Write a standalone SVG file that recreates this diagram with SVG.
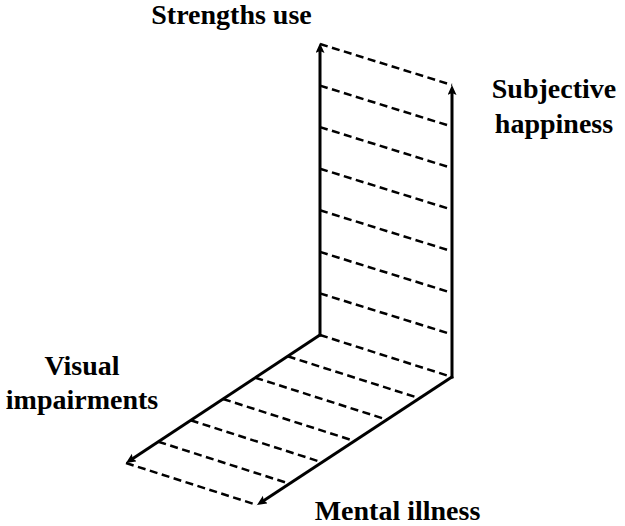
<svg xmlns="http://www.w3.org/2000/svg" width="625" height="526" viewBox="0 0 625 526">
  <style>
    .axis { stroke: #000; stroke-width: 3; fill: none; marker-end: url(#arrow); }
    .dash { stroke: #000; stroke-width: 2.5; fill: none; stroke-dasharray: 8 4.5; }
    .lbl { font-family: "Liberation Serif", "Times New Roman", serif; font-weight: bold; font-size: 28px; fill: #000; text-anchor: middle; }
  </style>
  <defs>
    <marker id="arrow" markerUnits="userSpaceOnUse" markerWidth="12" markerHeight="10" refX="4" refY="4.5" orient="auto">
      <path d="M0,0 L10,4.5 L0,9 L2,4.5 z" fill="#000"/>
    </marker>
  </defs>
  <rect width="625" height="526" fill="#fff"/>

  <g id="hatching">
    <line class="dash" x1="320" y1="44" x2="452" y2="85"/>
    <line class="dash" x1="320" y1="85.6" x2="452" y2="126.6"/>
    <line class="dash" x1="320" y1="127.1" x2="452" y2="168.1"/>
    <line class="dash" x1="320" y1="168.7" x2="452" y2="209.7"/>
    <line class="dash" x1="320" y1="210.3" x2="452" y2="251.3"/>
    <line class="dash" x1="320" y1="251.9" x2="452" y2="292.9"/>
    <line class="dash" x1="320" y1="293.4" x2="452" y2="334.4"/>
    <line class="dash" x1="320" y1="335" x2="452" y2="377"/>
    <line class="dash" x1="287.7" y1="356.3" x2="419.5" y2="398.3"/>
    <line class="dash" x1="255.3" y1="377.7" x2="387" y2="419.7"/>
    <line class="dash" x1="223" y1="399" x2="354.5" y2="441"/>
    <line class="dash" x1="190.7" y1="420.3" x2="322" y2="462.3"/>
    <line class="dash" x1="158.3" y1="441.7" x2="289.5" y2="483.7"/>
    <line class="dash" x1="126" y1="463" x2="257" y2="505"/>
  </g>

  <g id="axes">
    <line id="strengths-axis" class="axis" x1="320" y1="336.5" x2="320" y2="49"/>
    <line id="happiness-axis" class="axis" x1="452" y1="378.5" x2="452" y2="91"/>
    <line id="visual-axis" class="axis" x1="321" y1="334.3" x2="131" y2="459.7"/>
    <line id="mental-axis" class="axis" x1="453" y1="376.3" x2="262" y2="501.7"/>
  </g>

  <g id="labels">
    <text id="label-strengths" class="lbl" x="231.5" y="24">Strengths use</text>
    <text id="label-subjective" class="lbl" x="554" y="98">Subjective</text>
    <text id="label-happiness" class="lbl" x="554" y="133">happiness</text>
    <text id="label-visual" class="lbl" x="82" y="375">Visual</text>
    <text id="label-impairments" class="lbl" x="82" y="409">impairments</text>
    <text id="label-mental" class="lbl" x="397.5" y="520">Mental illness</text>
  </g>
</svg>
